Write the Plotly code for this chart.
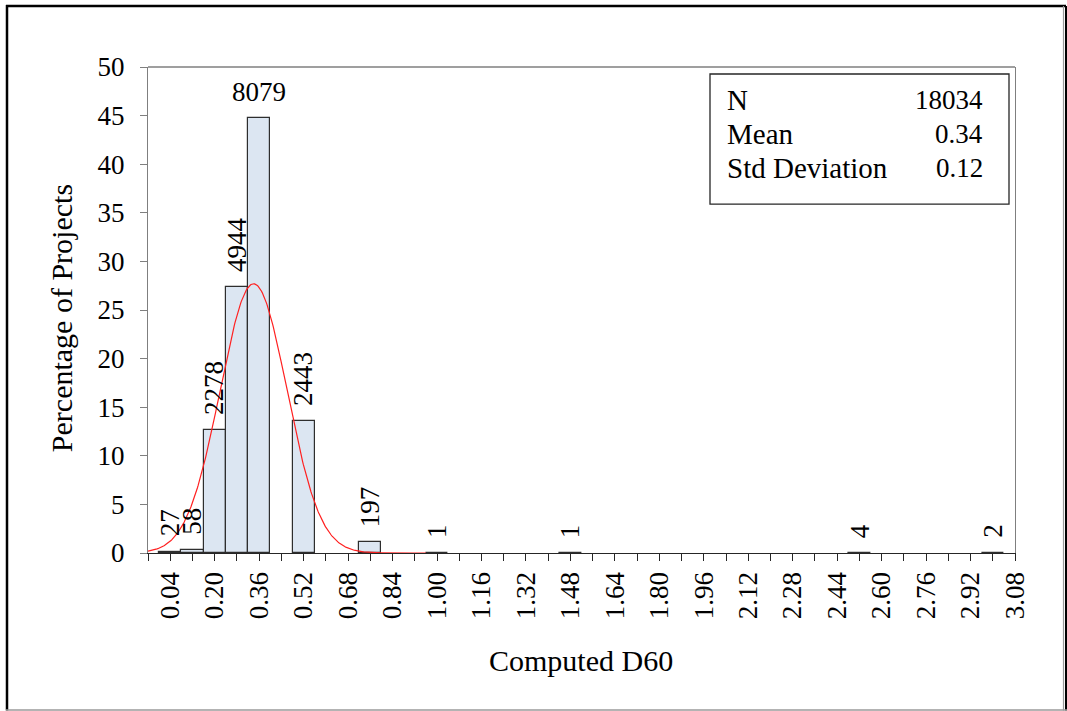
import numpy as np
import plotly.graph_objects as go

# Histogram of computed D60 values (bin centres, counts per bin)
bin_centers = [0.04, 0.12, 0.20, 0.28, 0.36, 0.52, 0.76, 1.00, 1.48, 2.52, 3.00]
bin_counts = [27, 58, 2278, 4944, 8079, 2443, 197, 1, 1, 4, 2]
BIN_WIDTH = 0.08

# Summary statistics shown in the inset box
stat_names = ["N", "Mean", "Std Deviation"]
stat_values = ["18034", "0.34", "0.12"]
N_TOTAL = 18034
MEAN = 0.34
STD = 0.12
NORMAL_PEAK = 27.7  # height of the fitted normal curve, in percent

# Tick positions every 0.08, labelled every 0.16 starting at 0.04
tick_positions = [round(-0.04 + 0.08 * i, 2) for i in range(40)]
tick_labels = [f"{v:.2f}" if i % 2 == 1 else "" for i, v in enumerate(tick_positions)]

percent = [100.0 * c / N_TOTAL for c in bin_counts]

FONT = "Liberation Serif, Times New Roman, serif"

fig = go.Figure()

fig.add_trace(go.Bar(
    x=bin_centers,
    y=percent,
    width=BIN_WIDTH,
    marker=dict(color="#DCE6F2", line=dict(color="#2e2e2e", width=1.2)),
    hoverinfo="skip",
    showlegend=False,
))

# Fitted normal curve
curve_x = np.linspace(-0.04, 0.96, 400)
curve_y = NORMAL_PEAK * np.exp(-0.5 * ((curve_x - MEAN) / STD) ** 2)
fig.add_trace(go.Scatter(
    x=curve_x, y=curve_y, mode="lines",
    line=dict(color="#FF2020", width=1.2),
    hoverinfo="skip", showlegend=False,
))

annotations = []
for xc, pc, cnt in zip(bin_centers, percent, bin_counts):
    horizontal = pc > 40
    annotations.append(dict(
        x=xc, y=pc, xref="x", yref="y",
        text=str(cnt), showarrow=False,
        textangle=0 if horizontal else -90,
        xanchor="center", yanchor="bottom",
        yshift=9 if horizontal else 13,
        font=dict(family=FONT, size=27, color="#000000"),
    ))

# Plot area geometry (pixels) used to place titles, the inset box and the frame
PX_L, PX_R, PX_T, PX_B = 148, 1015, 67, 552.7
def px_x(px):
    return (px - PX_L) / (PX_R - PX_L)
def px_y(py):
    return (PX_B - py) / (PX_B - PX_T)

# Axis titles
annotations.append(dict(
    x=px_x(61), y=px_y(318), xref="paper", yref="paper",
    text="Percentage of Projects", showarrow=False, textangle=-90,
    xanchor="center", yanchor="middle",
    font=dict(family=FONT, size=30, color="#000000"),
))
annotations.append(dict(
    x=px_x(581), y=px_y(660), xref="paper", yref="paper",
    text="Computed D60", showarrow=False,
    xanchor="center", yanchor="middle",
    font=dict(family=FONT, size=30, color="#000000"),
))

row_y = [100, 134, 168]
for name, val, ry in zip(stat_names, stat_values, row_y):
    annotations.append(dict(
        x=px_x(725), y=px_y(ry), xref="paper", yref="paper",
        text=name, showarrow=False, xanchor="left", yanchor="middle",
        font=dict(family=FONT, size=29, color="#000000"),
    ))
    annotations.append(dict(
        x=px_x(985), y=px_y(ry), xref="paper", yref="paper",
        text=val, showarrow=False, xanchor="right", yanchor="middle",
        font=dict(family=FONT, size=27, color="#000000"),
    ))

shapes = [
    # inset statistics box
    dict(type="rect", xref="paper", yref="paper",
         x0=px_x(710), x1=px_x(1009), y0=px_y(204), y1=px_y(74),
         line=dict(color="#262626", width=1.3), fillcolor="rgba(0,0,0,0)"),
    # top edge of plot area
    dict(type="line", xref="paper", yref="paper",
         x0=0, x1=1, y0=1, y1=1, line=dict(color="#7f7f7f", width=1.3)),
    # outer frame
    dict(type="line", xref="paper", yref="paper",
         x0=px_x(7), x1=px_x(7), y0=px_y(5), y1=px_y(710),
         line=dict(color="#000000", width=2.5)),
    dict(type="line", xref="paper", yref="paper",
         x0=px_x(6), x1=px_x(1066), y0=px_y(6), y1=px_y(6),
         line=dict(color="#000000", width=2.5)),
    dict(type="line", xref="paper", yref="paper",
         x0=px_x(1063.5), x1=px_x(1063.5), y0=px_y(6), y1=px_y(710),
         line=dict(color="#9a9a9a", width=1.2)),
    dict(type="line", xref="paper", yref="paper",
         x0=px_x(1066), x1=px_x(1066), y0=px_y(6), y1=px_y(710),
         line=dict(color="#000000", width=2)),
    dict(type="line", xref="paper", yref="paper",
         x0=px_x(6), x1=px_x(1067), y0=px_y(709.5), y1=px_y(709.5),
         line=dict(color="#9a9a9a", width=1.5)),
]

fig.update_layout(
    width=1067, height=711,
    margin=dict(l=PX_L, r=1067 - PX_R, t=PX_T, b=711 - PX_B),
    paper_bgcolor="white", plot_bgcolor="white",
    bargap=0,
    font=dict(family=FONT, size=27, color="#000000"),
    annotations=annotations,
    shapes=shapes,
    xaxis=dict(
        range=[-0.04, 3.08],
        tickmode="array", tickvals=tick_positions, ticktext=tick_labels,
        tickangle=-90, ticks="outside", ticklen=7, tickcolor="#262626",
        showline=True, linecolor="#262626", linewidth=1.3,
        showgrid=False, zeroline=False,
        tickfont=dict(family=FONT, size=27, color="#000000"),
    ),
    yaxis=dict(
        range=[0, 50], tick0=0, dtick=5,
        ticks="outside", ticklen=7, tickcolor="#7f7f7f",
        showline=True, linecolor="#7f7f7f", linewidth=1.3, mirror=True,
        showgrid=False, zeroline=False,
        tickfont=dict(family=FONT, size=27, color="#000000"),
        ticklabelstandoff=10,
    ),
)

fig.write_html("out.html")
